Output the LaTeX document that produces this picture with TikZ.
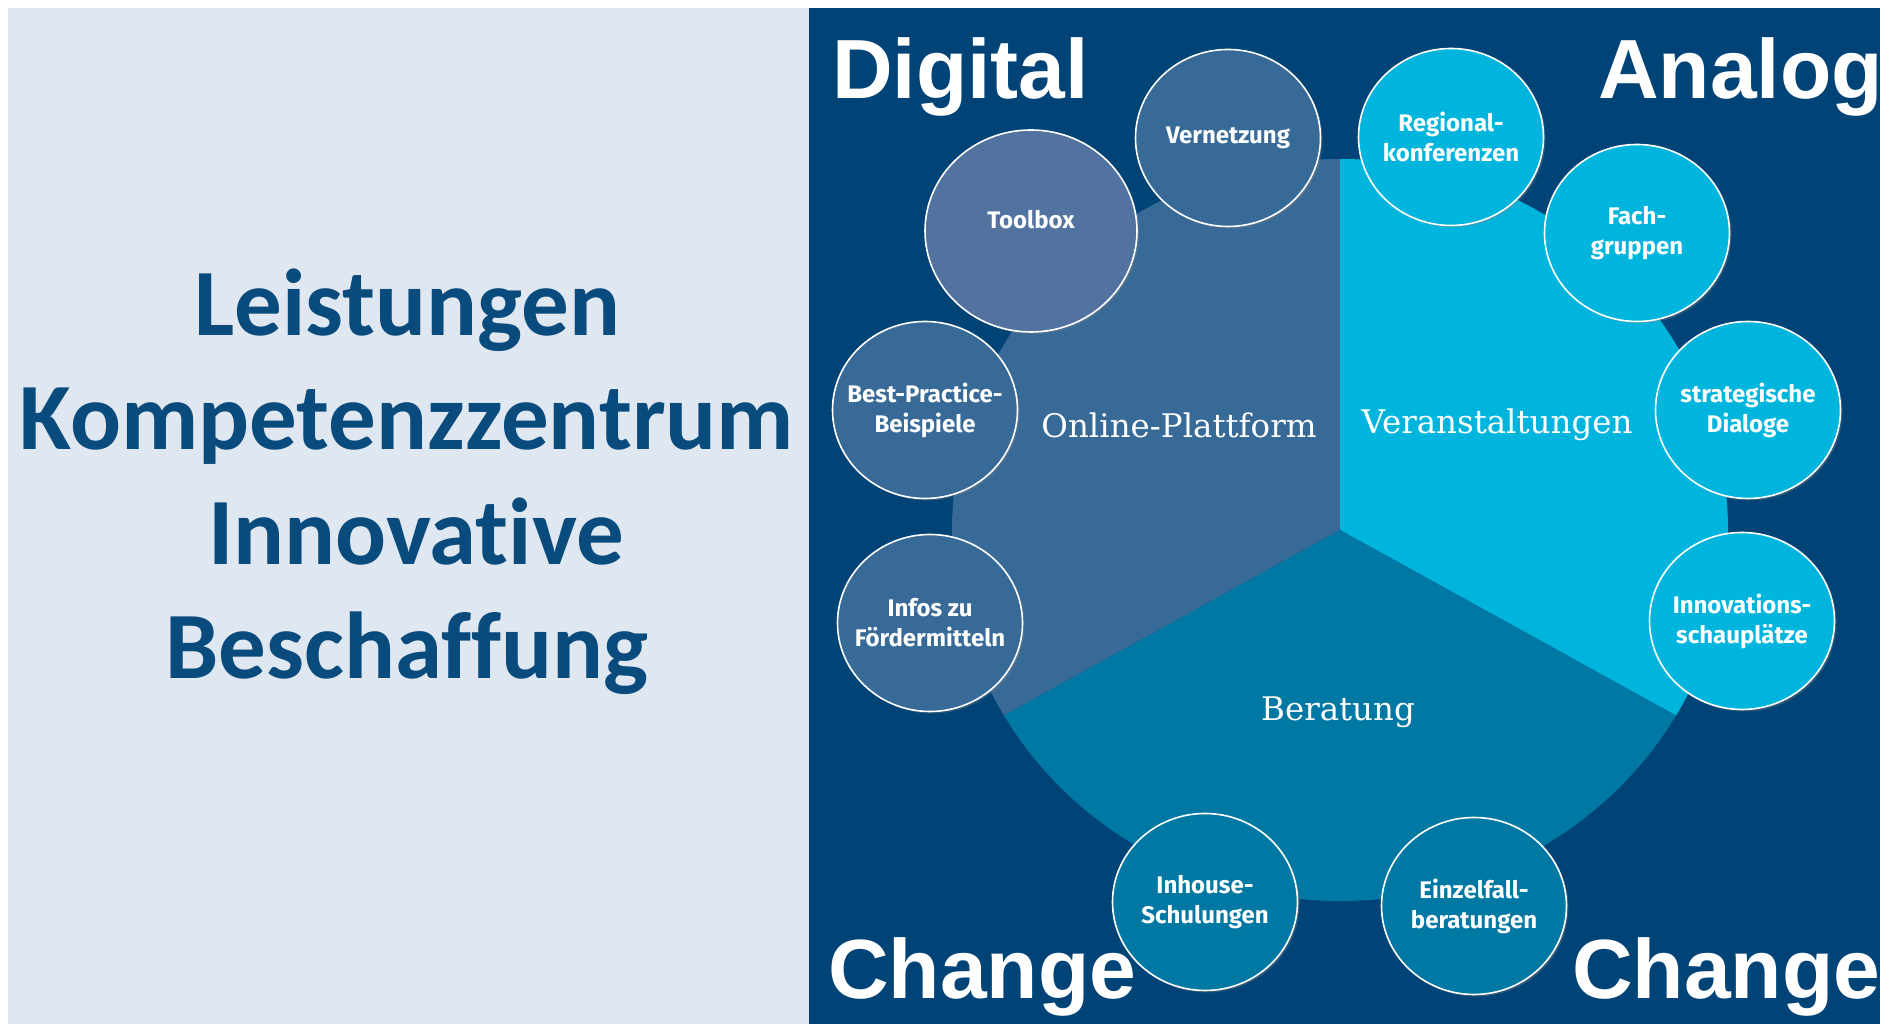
\documentclass[tikz,border=0pt]{standalone}
\usepackage{fontspec}
\usetikzlibrary{shapes.geometric, shadows}
\definecolor{panelgrey}{RGB}{223, 231, 240}
\definecolor{navy}{RGB}{0, 67, 118}
\definecolor{titleblue}{RGB}{10, 75, 125}
\definecolor{onlineblue}{RGB}{56, 106, 152}
\definecolor{toolblue}{RGB}{82, 114, 160}
\definecolor{eventcyan}{RGB}{0, 181, 221}
\definecolor{adviceblue}{RGB}{0, 120, 164}
\newfontfamily\titlefont[Ligatures={NoCommon}]{Carlito}
\newfontfamily\headfont{Liberation Sans}
\newfontfamily\bubblefont{Fira Sans}
\newfontfamily\sectorfont{DejaVu Serif}

\tikzset{
  bubble/.style={ellipse, draw=white, line width=1.6pt, inner sep=-15pt,
    minimum width=185pt, minimum height=177pt, text=white, align=center,
    font=\bubblefont\bfseries\fontsize{24}{30}\selectfont,
    drop shadow={opacity=0.35, shadow xshift=2pt, shadow yshift=-2pt}},
  sectorlabel/.style={text=white, inner sep=0pt,
    font=\sectorfont\fontsize{32.5}{36}\selectfont},
  cornerword/.style={text=white, inner sep=0pt, anchor=base west,
    font=\headfont\bfseries\fontsize{84}{84}\selectfont},
  titleline/.style={text=titleblue, inner sep=0pt, anchor=base,
    font=\titlefont\bfseries\fontsize{95}{95}\selectfont}
}

\begin{document}
\begin{tikzpicture}[x=1pt, y=1pt]
    \useasboundingbox (0,0) rectangle (1896,1024);
    \fill[white] (0,0) rectangle (1896,1024);
    \fill[panelgrey] (8,0) rectangle (809,1016);
    \fill[navy] (809,0) rectangle (1880,1016);

    % title
    \node[titleline] (title1) at (407,688) {Leistungen};
    \node[titleline] (title2) at (407,574) {Kompetenzzentrum};
    \node[titleline] (title3) at (416,459) {Innovative};
    \node[titleline] (title4) at (407,345) {Beschaffung};

    % three sectors
    \coordinate (mid) at (1340,494);
    \fill[onlineblue] (mid) -- ++(0,371) arc[start angle=90, end angle=210, x radius=388, y radius=371] -- cycle;
    \fill[eventcyan] (mid) -- ++(0,371) arc[start angle=90, end angle=-30, x radius=388, y radius=371] -- cycle;
    \fill[adviceblue] (mid) -- ++(210:388 and 371) arc[start angle=210, end angle=330, x radius=388, y radius=371] -- cycle;

    \node[sectorlabel] (online) at (1179,599) {Online-Plattform};
    \node[sectorlabel] (events) at (1497,599) {Veranstaltungen};
    \node[sectorlabel] (advice) at (1338,312) {Beratung};

    % bubbles
    \node[bubble, fill=toolblue, minimum width=212pt, minimum height=202pt, text depth=24pt] (toolbox) at (1031,793) {Toolbox};
    \node[bubble, fill=onlineblue] (network) at (1228,886) {Vernetzung};
    \node[bubble, fill=onlineblue] (practice) at (925,614) {Best-Practice-\\Beispiele};
    \node[bubble, fill=onlineblue] (funding) at (930,401) {Infos zu\\Fördermitteln};
    \node[bubble, fill=eventcyan] (regional) at (1451,887) {Regional-\\konferenzen};
    \node[bubble, fill=eventcyan] (groups) at (1637,791) {Fach-\\gruppen};
    \node[bubble, fill=eventcyan] (dialog) at (1748,614) {strategische\\Dialoge};
    \node[bubble, fill=eventcyan] (showcase) at (1742,403) {Innovations-\\schauplätze};
    \node[bubble, fill=adviceblue] (inhouse) at (1205,122) {Inhouse-\\Schulungen};
    \node[bubble, fill=adviceblue] (single) at (1474,118) {Einzelfall-\\beratungen};

    % corner words
    \begin{scope}
        \clip (809,0) rectangle (1880,1016);
        \node[cornerword] (digital) at (832,925) {Digital};
        \node[cornerword] (analog) at (1598,925) {Analog};
        \node[cornerword] (changeL) at (828,25) {Change};
        \node[cornerword] (changeR) at (1572,25) {Change};
    \end{scope}
\end{tikzpicture}
\end{document}
